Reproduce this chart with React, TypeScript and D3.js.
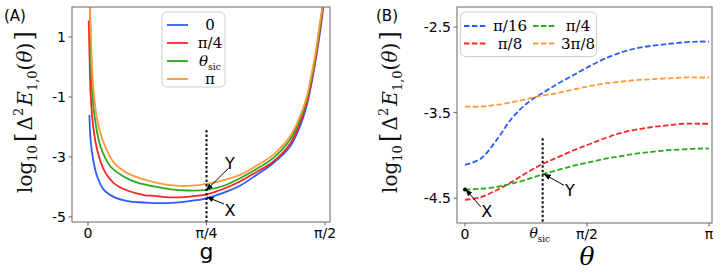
import React from "react";
import * as d3 from "d3";

// ---- panel A data: g given as a fraction of pi/2, values are log10 ----
const aBlueG = [0.006, 0.011, 0.022, 0.039, 0.067, 0.11, 0.166, 0.236, 0.278, 0.35, 0.42, 0.5, 0.57, 0.641, 0.711, 0.781, 0.852, 0.894, 0.923, 0.944, 0.962, 0.976, 0.989, 0.996];
const aBlueV = [-1.6, -2.43, -3.1, -3.66, -4.1, -4.34, -4.47, -4.52, -4.54, -4.53, -4.48, -4.38, -4.2, -3.96, -3.6, -3.21, -2.66, -1.99, -1.28, -0.5, 0.3, 1.0, 1.75, 2.2];
const aRedG = [0.003, 0.006, 0.011, 0.022, 0.039, 0.067, 0.11, 0.166, 0.236, 0.278, 0.35, 0.42, 0.5, 0.57, 0.641, 0.711, 0.781, 0.852, 0.894, 0.923, 0.944, 0.962, 0.976, 0.989, 0.996];
const aRedV = [1.55, 0.57, -0.88, -1.99, -2.77, -3.43, -3.88, -4.12, -4.27, -4.3, -4.35, -4.33, -4.25, -4.07, -3.82, -3.5, -3.16, -2.57, -1.87, -1.2, -0.42, 0.36, 1.13, 1.85, 2.2];
const aGreenG = [0.007, 0.012, 0.018, 0.032, 0.053, 0.095, 0.152, 0.208, 0.278, 0.35, 0.42, 0.5, 0.57, 0.641, 0.711, 0.781, 0.852, 0.894, 0.923, 0.944, 0.962, 0.976, 0.989, 0.995];
const aGreenV = [2.2, 0.8, -0.88, -1.88, -2.66, -3.32, -3.66, -3.86, -3.98, -4.08, -4.12, -4.1, -3.97, -3.71, -3.4, -3.04, -2.43, -1.75, -1.08, -0.3, 0.47, 1.25, 1.95, 2.2];
const aOrangeG = [0.008, 0.014, 0.022, 0.039, 0.067, 0.11, 0.166, 0.236, 0.3, 0.37, 0.44, 0.5, 0.57, 0.641, 0.711, 0.781, 0.852, 0.894, 0.923, 0.944, 0.962, 0.976, 0.989, 0.994];
const aOrangeV = [2.0, 0.57, -0.66, -1.77, -2.55, -3.2, -3.54, -3.75, -3.88, -3.96, -3.96, -3.9, -3.78, -3.6, -3.29, -2.93, -2.32, -1.66, -0.99, -0.21, 0.57, 1.34, 2.0, 2.2];

// ---- panel B data: theta in radians ----
const bTheta = [0, 0.2, 0.4, 0.6, 0.8, 1.0, 1.2, 1.4, 1.6, 1.8, 2.0, 2.2, 2.4, 2.6, 2.8, 3.0, Math.PI];
const bPi16 = [-4.11, -4.04, -3.83, -3.57, -3.39, -3.27, -3.16, -3.06, -2.96, -2.87, -2.8, -2.75, -2.72, -2.7, -2.68, -2.67, -2.67];
const bPi8 = [-4.52, -4.49, -4.41, -4.31, -4.2, -4.1, -4.02, -3.94, -3.87, -3.8, -3.74, -3.7, -3.67, -3.65, -3.63, -3.63, -3.63];
const bPi4 = [-4.4, -4.39, -4.37, -4.33, -4.28, -4.22, -4.17, -4.12, -4.08, -4.04, -4.01, -3.98, -3.96, -3.94, -3.93, -3.92, -3.92];
const b3Pi8 = [-3.43, -3.43, -3.41, -3.38, -3.34, -3.3, -3.27, -3.23, -3.19, -3.16, -3.14, -3.12, -3.11, -3.1, -3.09, -3.09, -3.09];

const thetaSic = 1.0;
const aTicksY = [1, -1, -3, -5];
const bTicksY = [-2.5, -3.5, -4.5];
const aTicksX = [{ v: 0, l: "0" }, { v: Math.PI / 4, l: "π/4" }, { v: Math.PI / 2, l: "π/2" }];
const bTicksX = [{ v: 0, l: "0" }, { v: Math.PI / 2, l: "π/2" }, { v: Math.PI, l: "π" }];

const BLUE = "#2b5cff";
const RED = "#ff2424";
const GREEN = "#2aa820";
const ORANGE = "#ff9a3a";
const FRAME = "#666";
const SANS = "DejaVu Sans, sans-serif";
const SERIF = "DejaVu Serif, serif";

const halfPi = Math.PI / 2;

function YLabel({ x, y }) {
  return (
    <text transform={`translate(${x},${y}) rotate(-90)`} textAnchor="middle" fontFamily={SERIF} fontSize={20} fill="#111">
      <tspan>log</tspan>
      <tspan fontSize={13} dy={5}>10</tspan>
      <tspan dy={-5} dx={3} fontSize={25}>[</tspan>
      <tspan dx={2}>Δ</tspan>
      <tspan fontSize={13} dy={-9}>2</tspan>
      <tspan dy={9} dx={2} fontStyle="italic">E</tspan>
      <tspan fontSize={13} dy={5}>1,0</tspan>
      <tspan dy={-5}>(</tspan>
      <tspan fontStyle="italic">θ</tspan>
      <tspan>)</tspan>
      <tspan dx={2} fontSize={25}>]</tspan>
    </text>
  );
}

function ThetaSic({ x, y, size }) {
  return (
    <text x={x} y={y} textAnchor="middle" fontFamily={SERIF} fontSize={size}>
      <tspan fontStyle="italic">θ</tspan>
      <tspan fontSize={size * 0.62} dy={size * 0.25}>sic</tspan>
    </text>
  );
}

function Arrow({ x1, y1, x2, y2, id }) {
  return <line x1={x1} y1={y1} x2={x2} y2={y2} stroke="#000" strokeWidth={1} markerEnd={`url(#${id})`} />;
}

export default function App() {
  // panel A
  const ax = d3.scaleLinear().domain([-0.0675 * halfPi, 1.021 * halfPi]).range([72, 330]);
  const ay = d3.scaleLinear().domain([2.0, -5.17]).range([7, 222]);
  // panel B
  const bx = d3.scaleLinear().domain([-0.103, Math.PI + 0.039]).range([457, 712]);
  const by = d3.scaleLinear().domain([-2.266, -4.79]).range([7, 223]);

  const lineA = d3.line<[number, number]>().x(d => ax(d[0] * halfPi)).y(d => ay(d[1])).curve(d3.curveCatmullRom.alpha(0.5));
  const lineB = d3.line<[number, number]>().x(d => bx(d[0])).y(d => by(d[1])).curve(d3.curveCatmullRom.alpha(0.5));

  const seriesA = [
    { g: aBlueG, v: aBlueV, c: BLUE },
    { g: aRedG, v: aRedV, c: RED },
    { g: aGreenG, v: aGreenV, c: GREEN },
    { g: aOrangeG, v: aOrangeV, c: ORANGE },
  ];
  const seriesB = [
    { v: bPi16, c: BLUE },
    { v: b3Pi8, c: ORANGE },
    { v: bPi8, c: RED },
    { v: bPi4, c: GREEN },
  ];

  const legA = [
    { c: BLUE, l: "0" },
    { c: RED, l: "π/4" },
    { c: GREEN, l: "sic" },
    { c: ORANGE, l: "π" },
  ];
  const legB = [
    { c: BLUE, l: "π/16", col: 0, row: 0 },
    { c: RED, l: "π/8", col: 0, row: 1 },
    { c: GREEN, l: "π/4", col: 1, row: 0 },
    { c: ORANGE, l: "3π/8", col: 1, row: 1 },
  ];

  const [ax0, ax1] = ax.range();
  const [ay0, ay1] = ay.range();
  const [bx0, bx1] = bx.range();
  const [by0, by1] = by.range();

  return (
    <svg width={723} height={273} style={{ position: "absolute", left: 0, top: 0, background: "#fff" }} fontFamily={SANS}>
      <defs>
        <clipPath id="clipA"><rect x={ax0} y={ay0} width={ax1 - ax0} height={ay1 - ay0} /></clipPath>
        <clipPath id="clipB"><rect x={bx0} y={by0} width={bx1 - bx0} height={by1 - by0} /></clipPath>
        <marker id="ah" viewBox="0 0 10 10" refX={9} refY={5} markerWidth={7} markerHeight={7} orient="auto">
          <path d="M0,1 L10,5 L0,9 z" fill="#000" />
        </marker>
      </defs>

      {/* ---------- panel A ---------- */}
      <text x={4} y={21} fontSize={15}>(A)</text>
      <g clipPath="url(#clipA)">
        {seriesA.map((s, i) => (
          <path key={i} d={lineA(s.g.map((g, j) => [g, s.v[j]]))!} fill="none" stroke={s.c} strokeWidth={1.8} />
        ))}
        <line x1={ax(Math.PI / 4)} x2={ax(Math.PI / 4)} y1={ay(-2.1)} y2={ay1} stroke="#111" strokeWidth={2} strokeDasharray="2.5,2" />
      </g>
      <rect x={ax0} y={ay0} width={ax1 - ax0} height={ay1 - ay0} fill="none" stroke={FRAME} strokeWidth={1} />
      {aTicksY.map(t => (
        <g key={t}>
          <line x1={ax0 - 3.5} x2={ax0} y1={ay(t)} y2={ay(t)} stroke={FRAME} />
          <text x={ax0 - 6} y={ay(t)} dy="0.35em" textAnchor="end" fontSize={14}>{t}</text>
        </g>
      ))}
      {aTicksX.map(t => (
        <g key={t.l}>
          <line x1={ax(t.v)} x2={ax(t.v)} y1={ay1} y2={ay1 + 3.5} stroke={FRAME} />
          <text x={ax(t.v)} y={ay1 + 16} textAnchor="middle" fontSize={14}>{t.l}</text>
        </g>
      ))}
      <text x={ax(Math.PI / 4)} y={259} textAnchor="middle" fontSize={22}>g</text>
      <YLabel x={32} y={112} />

      {/* legend A */}
      <rect x={162} y={12} width={63} height={75} rx={5} fill="#fff" fillOpacity={0.85} stroke="#ccc" />
      {legA.map((e, i) => (
        <g key={i}>
          <line x1={167} x2={188} y1={25 + i * 18} y2={25 + i * 18} stroke={e.c} strokeWidth={1.8} />
          {e.l === "sic" ? (
            <ThetaSic x={210} y={30 + i * 18} size={15} />
          ) : (
            <text x={210} y={30 + i * 18} textAnchor="middle" fontFamily={SERIF} fontSize={15}>{e.l}</text>
          )}
        </g>
      ))}

      {/* annotations A */}
      <text x={ax(0.599 * halfPi)} y={ay(-3.2)} dy="0.35em" textAnchor="middle" fontSize={16}>Y</text>
      <Arrow id="ah" x1={ax(0.594 * halfPi)} y1={ay(-3.37)} x2={ax(0.5 * halfPi)} y2={ay(-4.1)} />
      <text x={ax(0.599 * halfPi)} y={ay(-4.77)} dy="0.35em" textAnchor="middle" fontSize={16}>X</text>
      <Arrow id="ah" x1={ax(0.574 * halfPi)} y1={ay(-4.57)} x2={ax(0.503 * halfPi)} y2={ay(-4.34)} />

      {/* ---------- panel B ---------- */}
      <text x={376} y={21} fontSize={15}>(B)</text>
      <g clipPath="url(#clipB)">
        {seriesB.map((s, i) => (
          <path key={i} d={lineB(bTheta.map((t, j) => [t, s.v[j]]))!} fill="none" stroke={s.c} strokeWidth={1.8} strokeDasharray="5.5,2.4" />
        ))}
        <line x1={bx(thetaSic)} x2={bx(thetaSic)} y1={by(-3.8)} y2={by1} stroke="#111" strokeWidth={2} strokeDasharray="2.5,2" />
      </g>
      <rect x={bx0} y={by0} width={bx1 - bx0} height={by1 - by0} fill="none" stroke={FRAME} strokeWidth={1} />
      {bTicksY.map(t => (
        <g key={t}>
          <line x1={bx0 - 3.5} x2={bx0} y1={by(t)} y2={by(t)} stroke={FRAME} />
          <text x={bx0 - 6} y={by(t)} dy="0.35em" textAnchor="end" fontSize={14}>{t}</text>
        </g>
      ))}
      {bTicksX.map(t => (
        <g key={t.l}>
          <line x1={bx(t.v)} x2={bx(t.v)} y1={by1} y2={by1 + 3.5} stroke={FRAME} />
          <text x={bx(t.v)} y={by1 + 16} textAnchor="middle" fontSize={14}>{t.l}</text>
        </g>
      ))}
      <ThetaSic x={bx(thetaSic) - 3} y={by1 + 15} size={14} />
      <text x={bx(Math.PI / 2)} y={265} textAnchor="middle" fontFamily={SERIF} fontStyle="italic" fontSize={25}>θ</text>
      <YLabel x={397} y={112} />

      {/* legend B */}
      <rect x={460.5} y={12} width={136} height={44.5} rx={5} fill="#fff" fillOpacity={0.85} stroke="#ccc" />
      {legB.map((e, i) => (
        <g key={i}>
          <line x1={464 + e.col * 69} x2={487 + e.col * 69} y1={26 + e.row * 17.5} y2={26 + e.row * 17.5} stroke={e.c} strokeWidth={1.8} strokeDasharray="5.5,2.4" />
          <text x={510 + e.col * 68} y={31 + e.row * 17.5} textAnchor="middle" fontFamily={SERIF} fontSize={15}>{e.l}</text>
        </g>
      ))}

      {/* annotations B */}
      <circle cx={bx(0)} cy={by(-4.4)} r={2} fill="#000" />
      <text x={bx(0.279)} y={by(-4.66)} dy="0.35em" textAnchor="middle" fontSize={16}>X</text>
      <Arrow id="ah" x1={bx(0.202)} y1={by(-4.6)} x2={bx(0.013)} y2={by(-4.4)} />
      <text x={bx(1.352)} y={by(-4.406)} dy="0.35em" textAnchor="middle" fontSize={16}>Y</text>
      <Arrow id="ah" x1={bx(1.275)} y1={by(-4.35)} x2={bx(1.021)} y2={by(-4.22)} />
    </svg>
  );
}
